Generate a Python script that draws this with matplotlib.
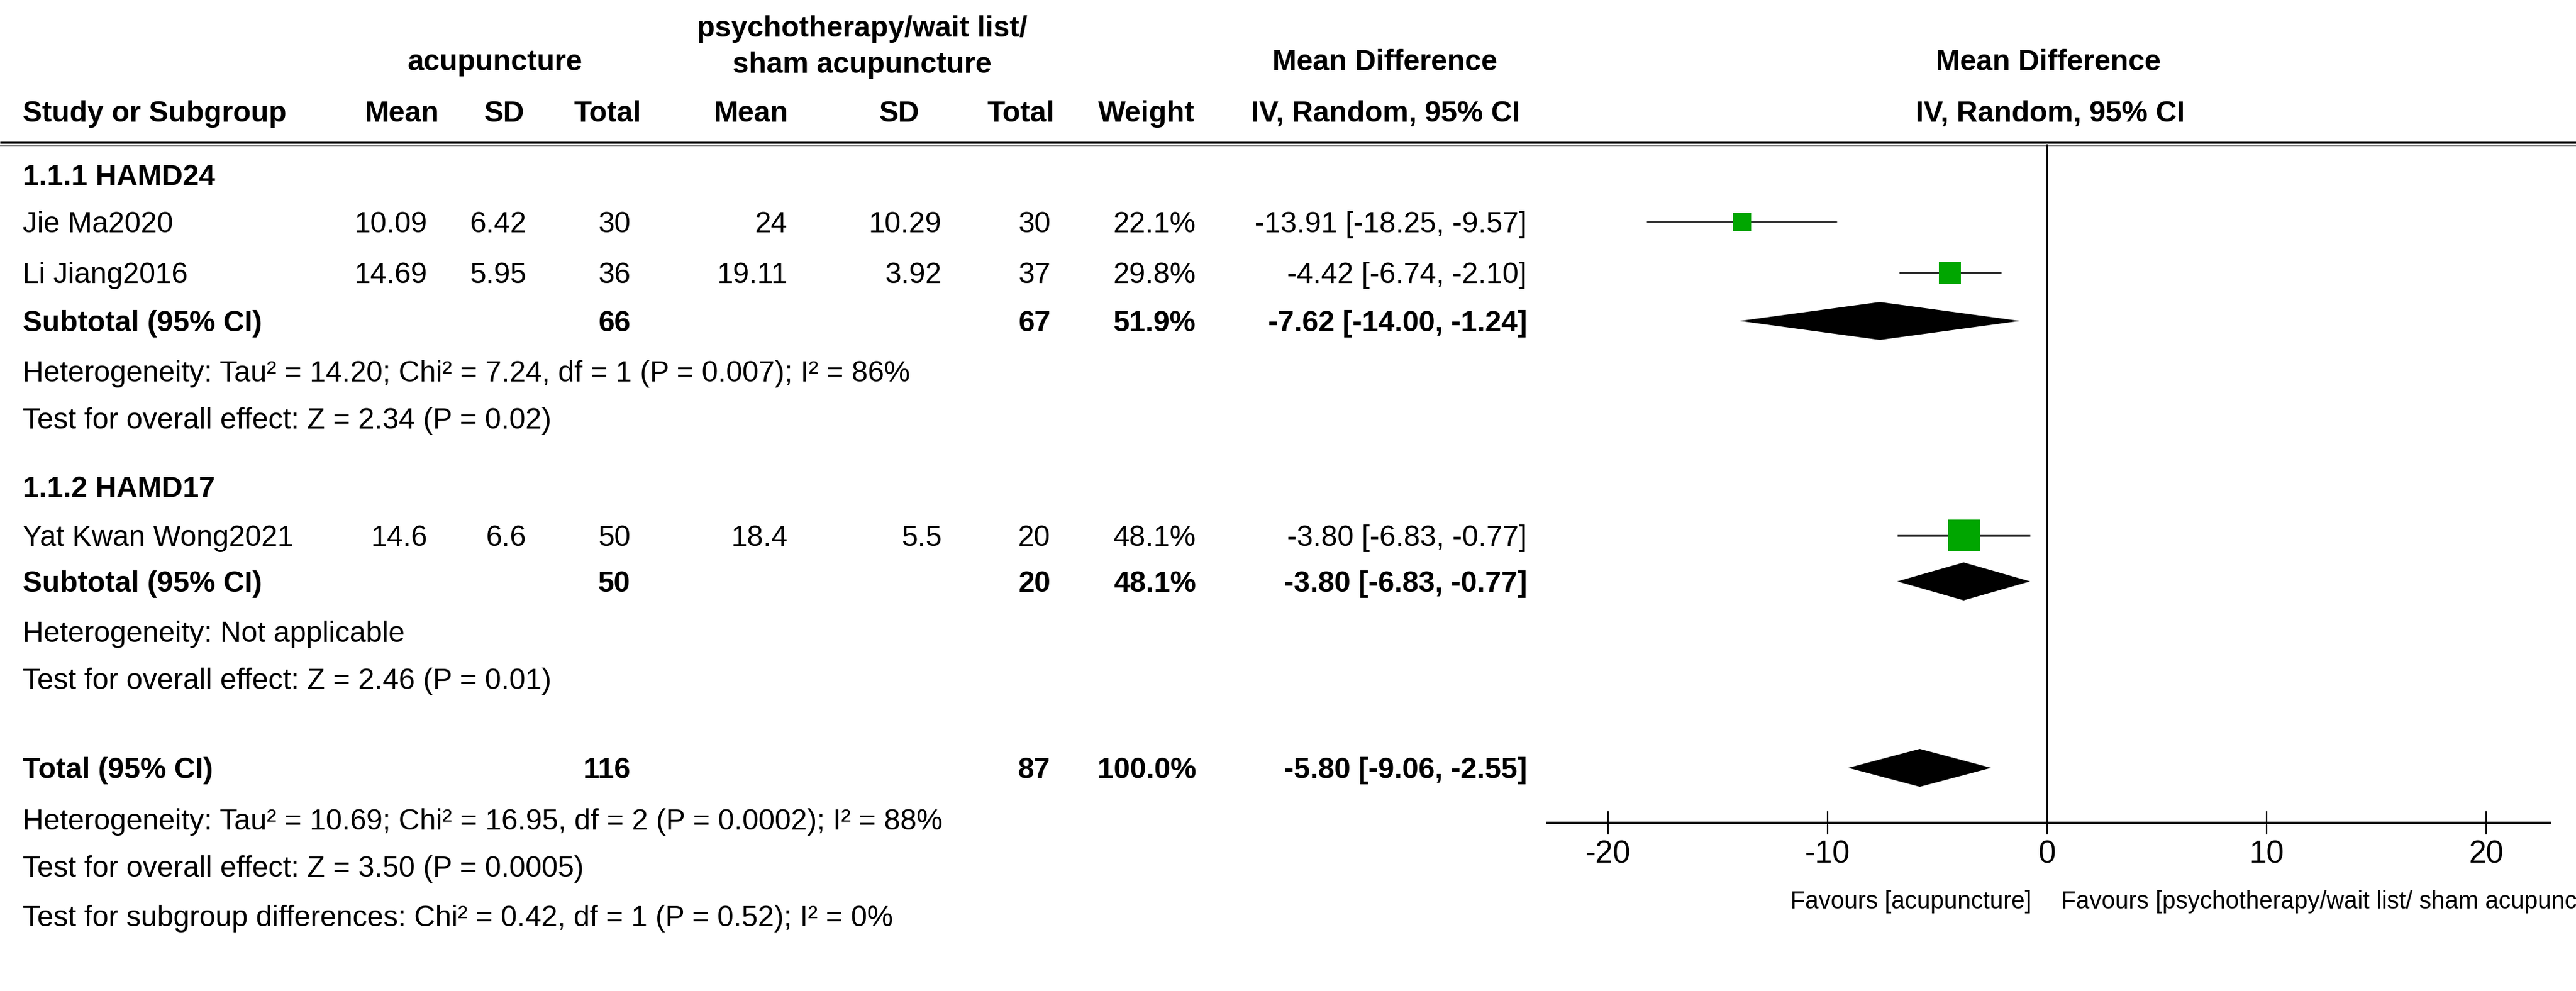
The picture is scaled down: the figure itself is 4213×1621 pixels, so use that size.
import matplotlib
matplotlib.use("Agg")
import matplotlib.pyplot as plt

plt.rcParams['font.family'] = ['Liberation Sans', 'DejaVu Sans']

# study level data
studies = ["Jie Ma2020", "Li Jiang2016", "Yat Kwan Wong2021"]
acu_mean = [10.09, 14.69, 14.6]
acu_sd = [6.42, 5.95, 6.6]
acu_n = [30, 36, 50]
ctl_mean = [24, 19.11, 18.4]
ctl_sd = [10.29, 3.92, 5.5]
ctl_n = [30, 37, 20]
weights = [22.1, 29.8, 48.1]
md = [-13.91, -4.42, -3.80]
md_lo = [-18.25, -6.74, -6.83]
md_hi = [-9.57, -2.10, -0.77]

# subgroups
groups = ["1.1.1 HAMD24", "1.1.2 HAMD17"]
group_members = [[0, 1], [2]]
sub_acu_n = [66, 50]
sub_ctl_n = [67, 20]
sub_weight = [51.9, 48.1]
sub_md = [-7.62, -3.80]
sub_lo = [-14.00, -6.83]
sub_hi = [-1.24, -0.77]
sub_het = ["Heterogeneity: Tau² = 14.20; Chi² = 7.24, df = 1 (P = 0.007); I² = 86%",
           "Heterogeneity: Not applicable"]
sub_test = ["Test for overall effect: Z = 2.34 (P = 0.02)",
            "Test for overall effect: Z = 2.46 (P = 0.01)"]

# overall
tot_acu_n, tot_ctl_n, tot_weight = 116, 87, 100.0
tot_md, tot_lo, tot_hi = -5.80, -9.06, -2.55
tot_notes = ["Heterogeneity: Tau² = 10.69; Chi² = 16.95, df = 2 (P = 0.0002); I² = 88%",
             "Test for overall effect: Z = 3.50 (P = 0.0005)",
             "Test for subgroup differences: Chi² = 0.42, df = 1 (P = 0.52); I² = 0%"]

ticks = [-20, -10, 0, 10, 20]
fav_left = "Favours [acupuncture]"
fav_right = "Favours [psychotherapy/wait list/ sham acupuncture]"

# layout (pixel rows, y measured from top)
W, H = 4213, 1621
group_y = [286, 796]
study_y = [363, 446, 876]
sub_y = [525, 951]
het_y = [607, 1033]
test_y = [684, 1110]
total_y = 1256
notes_y = [1340, 1417, 1498]
# right edges of numeric columns
col_x = [699, 861, 1031, 1288, 1540, 1718, 1956, 2497]

FS = 34.3
GREEN = '#00A600'

fig = plt.figure(figsize=(W / 100, H / 100), dpi=100)
tab = fig.add_axes([0, 0, 1, 1])
tab.set_xlim(0, W)
tab.set_ylim(H, 0)
tab.axis('off')


def txt(x, y, s, ha='left', bold=False, size=FS):
    tab.text(x, y + 17, s, ha=ha, va='baseline', fontsize=size,
             fontweight='bold' if bold else 'normal')


def ci_label(m, lo, hi):
    return f"{m:.2f} [{lo:.2f}, {hi:.2f}]"


# headers
tab.text(810, 115, "acupuncture", ha='center', va='baseline', fontsize=FS, fontweight='bold')
tab.text(1410, 60, "psychotherapy/wait list/", ha='center', va='baseline', fontsize=FS, fontweight='bold')
tab.text(1410, 119, "sham acupuncture", ha='center', va='baseline', fontsize=FS, fontweight='bold')
tab.text(2265, 115, "Mean Difference", ha='center', va='baseline', fontsize=FS, fontweight='bold')
tab.text(3350, 115, "Mean Difference", ha='center', va='baseline', fontsize=FS, fontweight='bold')
tab.text(37, 199, "Study or Subgroup", ha='left', va='baseline', fontsize=FS, fontweight='bold')
for x, s in zip([658, 825, 994, 1229, 1471, 1670, 1875, 2266, 3353],
                ["Mean", "SD", "Total", "Mean", "SD", "Total", "Weight",
                 "IV, Random, 95% CI", "IV, Random, 95% CI"]):
    tab.text(x, 199, s, ha='center', va='baseline', fontsize=FS, fontweight='bold')

tab.plot([0, W], [233, 233], color='black', lw=2.4, solid_capstyle='butt')
tab.plot([0, W], [237.5, 237.5], color='#8a8a8a', lw=1.4, solid_capstyle='butt')

# table body
for g, name in enumerate(groups):
    txt(37, group_y[g], name, bold=True)
    for i in group_members[g]:
        y = study_y[i]
        txt(37, y, studies[i])
        vals = [acu_mean[i], acu_sd[i], acu_n[i], ctl_mean[i], ctl_sd[i], ctl_n[i],
                f"{weights[i]:.1f}%", ci_label(md[i], md_lo[i], md_hi[i])]
        for x, v in zip(col_x, vals):
            txt(x, y, str(v), ha='right')
    y = sub_y[g]
    txt(37, y, "Subtotal (95% CI)", bold=True)
    for x, v in zip([col_x[2], col_x[5], col_x[6], col_x[7]],
                    [sub_acu_n[g], sub_ctl_n[g], f"{sub_weight[g]:.1f}%",
                     ci_label(sub_md[g], sub_lo[g], sub_hi[g])]):
        txt(x, y, str(v), ha='right', bold=True)
    txt(37, het_y[g], sub_het[g])
    txt(37, test_y[g], sub_test[g])

txt(37, total_y, "Total (95% CI)", bold=True)
for x, v in zip([col_x[2], col_x[5], col_x[6], col_x[7]],
                [tot_acu_n, tot_ctl_n, f"{tot_weight:.1f}%",
                 ci_label(tot_md, tot_lo, tot_hi)]):
    txt(x, total_y, str(v), ha='right', bold=True)
for y, s in zip(notes_y, tot_notes):
    txt(37, y, s)

# forest panel
ax_l, ax_r, ax_top, ax_bot = 2531, 4170, 236, 1346
ax = fig.add_axes([ax_l / W, (H - ax_bot) / H, (ax_r - ax_l) / W, (ax_bot - ax_top) / H])
ax.set_xlim(-22.76, 22.9)
ax.set_ylim(ax_bot, ax_top)
ax.patch.set_alpha(0)
for side in ['left', 'right', 'top']:
    ax.spines[side].set_visible(False)
ax.spines['bottom'].set_linewidth(2.9)
ax.set_yticks([])
ax.set_xticks(ticks)
ax.set_xticklabels([str(t) for t in ticks])
ax.tick_params(axis='x', direction='inout', length=28, width=1.6, labelsize=37, pad=6)
ax.axvline(0, color='black', lw=1.5)

for i in range(len(studies)):
    y = study_y[i]
    ax.plot([md_lo[i], md_hi[i]], [y, y], color='#333333', lw=2.2, solid_capstyle='butt')
    side = (10 + 0.88 * weights[i]) * 0.72
    ax.plot(md[i], y, marker='s', ms=side, color=GREEN, mec=GREEN, mew=0)


def diamond(m, lo, hi, y, half=31):
    ax.fill([lo, m, hi, m], [y, y - half, y, y + half], color='black', lw=0)


for g in range(len(groups)):
    diamond(sub_md[g], sub_lo[g], sub_hi[g], sub_y[g])
diamond(tot_md, tot_lo, tot_hi, total_y)

tab.text(3322, 1475, fav_left, ha='right', va='center', fontsize=28.5)
tab.text(3371, 1475, fav_right, ha='left', va='center', fontsize=28.5)

fig.savefig("out.png", dpi=100)
